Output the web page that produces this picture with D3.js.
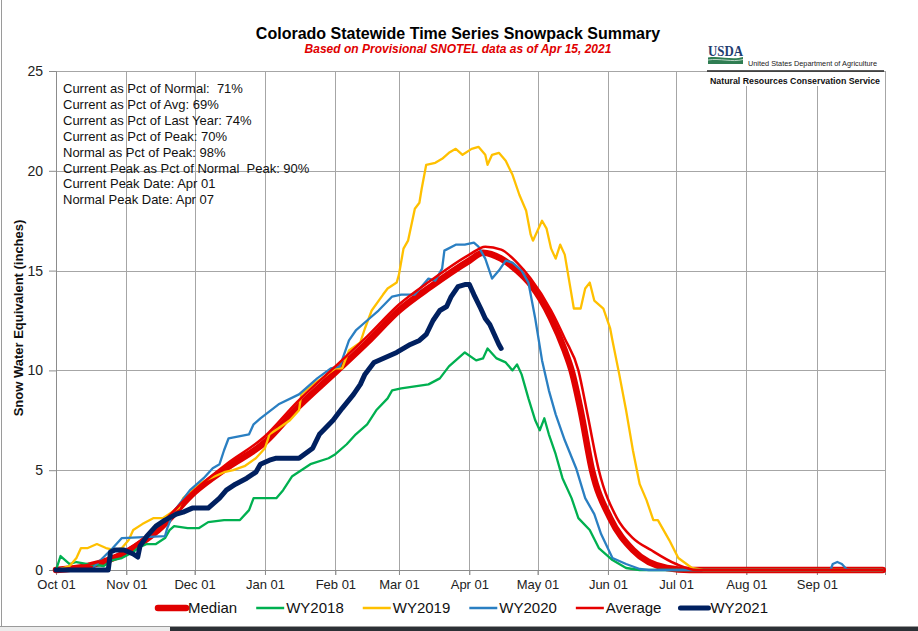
<!DOCTYPE html>
<html><head><meta charset="utf-8">
<script src="https://cdn.jsdelivr.net/npm/d3@7"></script>
<style>
html,body{margin:0;padding:0;background:#fff;}
svg{display:block;font-family:"Liberation Sans",Arial,sans-serif;}
</style></head><body>
<svg id="chart" width="918" height="631"></svg>
<script>
// ---------- DATA ----------
const monthTicks = ["10-01","11-01","12-01","01-01","02-01","03-01","04-01","05-01","06-01","07-01","08-01","09-01"];
const monthLabels = ["Oct 01","Nov 01","Dec 01","Jan 01","Feb 01","Mar 01","Apr 01","May 01","Jun 01","Jul 01","Aug 01","Sep 01"];
const yTicks = [0,5,10,15,20,25];

const median = [["10-01",0],["10-15",0.2],["11-01",0.9],["11-15",2.0],["12-01",3.9],["12-15",5.1],["01-01",6.4],["01-15",8.1],["02-01",9.9],["02-15",11.4],["03-01",13.0],["03-15",14.2],["04-01",15.5],["04-07",15.9],["04-15",15.6],["04-22",15.0],["04-28",14.3],["05-07",12.6],["05-13",11.0],["05-16",10.0],["05-20",8.0],["05-25",5.0],["06-02",2.6],["06-12",1.0],["06-27",0.1],["07-07",0],["09-30",0]];

const average = [["10-01",0],["10-15",0.25],["11-01",1.0],["11-15",2.2],["12-01",4.0],["12-15",5.3],["01-01",6.7],["01-15",8.4],["02-01",10.2],["02-15",11.7],["03-01",13.3],["03-15",14.5],["04-01",15.8],["04-08",16.2],["04-15",16.05],["04-22",15.4],["04-28",14.6],["05-07",13.0],["05-13",11.6],["05-19",10.0],["05-23",7.8],["05-28",5.0],["06-05",2.6],["06-12",1.6],["06-20",1.0],["07-01",0.3],["07-10",0],["09-30",0]];

const wy2018 = [["10-01",0],["10-03",0.7],["10-04",0.6],["10-07",0.3],["10-10",0.4],["10-15",0.3],["10-22",0.2],["10-26",0.5],["10-30",0.6],["11-04",0.9],["11-06",1.1],["11-10",1.3],["11-14",1.3],["11-18",1.6],["11-20",2.0],["11-22",2.2],["11-28",2.1],["12-03",2.1],["12-07",2.4],["12-14",2.5],["12-21",2.5],["12-25",3.0],["12-27",3.6],["01-06",3.6],["01-09",4.0],["01-13",4.7],["01-21",5.3],["01-29",5.6],["02-01",5.8],["02-06",6.3],["02-10",6.8],["02-15",7.3],["02-19",8.0],["02-24",8.6],["02-26",9.0],["03-02",9.1],["03-08",9.2],["03-14",9.3],["03-19",9.6],["03-23",10.2],["03-30",10.9],["04-04",10.5],["04-07",10.6],["04-09",11.1],["04-13",10.6],["04-17",10.4],["04-20",10.0],["04-22",10.3],["04-24",9.8],["04-27",8.6],["04-30",7.5],["05-02",7.0],["05-04",7.6],["05-06",6.8],["05-09",5.8],["05-12",4.6],["05-16",3.6],["05-19",2.6],["05-24",2.0],["05-28",1.1],["06-03",0.5],["06-09",0.1],["06-15",0],["09-30",0]];

const wy2019 = [["10-01",0],["10-07",0.2],["10-10",0.6],["10-12",1.1],["10-15",1.1],["10-19",1.3],["10-23",1.1],["10-27",1.0],["10-30",1.1],["11-02",1.5],["11-04",2.0],["11-08",2.3],["11-13",2.6],["11-17",2.6],["11-21",2.9],["11-24",3.1],["11-26",3.6],["11-30",4.0],["12-03",4.3],["12-06",4.5],["12-10",4.7],["12-14",4.9],["12-18",5.0],["12-23",5.2],["12-28",5.6],["01-01",6.1],["01-03",6.8],["01-07",7.1],["01-12",7.5],["01-16",8.0],["01-17",8.8],["01-22",9.3],["01-26",9.6],["02-01",10.1],["02-04",10.1],["02-07",11.0],["02-12",11.4],["02-14",12.1],["02-17",13.0],["02-22",13.8],["02-24",14.1],["02-28",14.4],["03-01",14.8],["03-03",16.1],["03-05",16.5],["03-08",18.1],["03-10",18.4],["03-11",19.1],["03-13",20.3],["03-17",20.4],["03-20",20.6],["03-23",20.9],["03-26",21.1],["03-29",20.8],["04-02",21.1],["04-05",21.2],["04-08",20.8],["04-09",20.3],["04-11",20.8],["04-14",20.9],["04-17",20.5],["04-20",19.8],["04-23",18.8],["04-26",18.0],["04-28",16.8],["04-29",16.5],["05-03",17.5],["05-05",17.1],["05-07",16.1],["05-09",15.6],["05-11",16.3],["05-13",15.8],["05-17",13.1],["05-20",13.1],["05-22",14.1],["05-24",14.4],["05-26",13.5],["05-28",13.3],["05-30",13.1],["06-02",12.1],["06-03",11.5],["06-06",9.8],["06-09",8.0],["06-12",6.0],["06-15",4.3],["06-18",3.5],["06-21",2.5],["06-23",2.5],["06-28",1.5],["07-02",0.6],["07-08",0.1],["07-13",0],["09-30",0]];

const wy2020 = [["10-01",0],["10-17",0],["10-18",0.2],["10-26",1.1],["10-30",1.6],["11-18",1.7],["11-19",2.1],["11-22",2.95],["11-29",4.0],["12-02",4.3],["12-05",4.6],["12-09",5.1],["12-12",5.3],["12-14",6.0],["12-16",6.6],["12-25",6.8],["12-27",7.3],["12-30",7.6],["01-07",8.3],["01-16",8.8],["01-24",9.6],["01-30",10.1],["02-03",10.2],["02-07",11.5],["02-10",12.0],["02-16",12.6],["02-20",13.0],["02-26",13.7],["03-02",13.8],["03-08",13.8],["03-14",14.6],["03-17",14.5],["03-20",15.1],["03-21",16.0],["03-26",16.3],["03-30",16.3],["04-03",16.4],["04-05",16.2],["04-08",15.6],["04-11",14.6],["04-14",15.0],["04-17",15.5],["04-20",15.4],["04-24",15.0],["04-27",14.4],["04-30",12.6],["05-03",10.5],["05-06",9.0],["05-09",7.8],["05-13",6.5],["05-18",5.1],["05-22",3.6],["05-26",2.8],["05-29",1.8],["06-03",0.6],["06-09",0.3],["06-15",0.05],["06-19",0],["09-07",0],["09-08",0.3],["09-10",0.4],["09-12",0.3],["09-14",0.05],["09-16",0],["09-30",0]];

const wy2021 = [["10-01",0],["10-24",0],["10-25",0.9],["10-27",1.0],["10-31",1.0],["11-04",0.8],["11-06",0.65],["11-07",1.2],["11-10",1.7],["11-14",2.2],["11-18",2.5],["11-23",2.8],["11-26",2.9],["11-30",3.1],["12-07",3.1],["12-09",3.3],["12-12",3.6],["12-15",4.0],["12-19",4.3],["12-24",4.6],["12-28",4.9],["12-30",5.3],["01-03",5.5],["01-06",5.6],["01-16",5.6],["01-22",6.1],["01-25",6.8],["01-31",7.5],["02-04",8.1],["02-09",8.8],["02-12",9.3],["02-14",9.8],["02-18",10.4],["02-22",10.6],["02-28",10.9],["03-06",11.3],["03-10",11.5],["03-13",11.8],["03-16",12.5],["03-19",13.0],["03-22",13.2],["03-24",13.7],["03-27",14.2],["03-30",14.3],["04-01",14.3],["04-03",13.8],["04-06",13.1],["04-08",12.6],["04-10",12.3],["04-12",11.8],["04-14",11.3],["04-15",11.1]];

const statsLines = ["Current as Pct of Normal:  71%","Current as Pct of Avg: 69%","Current as Pct of Last Year: 74%","Current as Pct of Peak: 70%","Normal as Pct of Peak: 98%","Current Peak as Pct of Normal  Peak: 90%","Current Peak Date: Apr 01","Normal Peak Date: Apr 07"];

const seriesNames = ["Median","WY2018","WY2019","WY2020","Average","WY2021"];
const seriesColors = ["#e00000","#00b050","#ffc000","#2a7fc2","#e60000","#002060"];
const seriesWidths = [6.5,2.3,2.3,2.3,2.5,5];
const seriesData = [median, wy2018, wy2019, wy2020, average, wy2021];

// ---------- CHART ----------
const svg = d3.select("#chart");
const plot = {left:56, right:885, top:71, bottom:570};
const parse = s => { const [m,d] = s.split("-").map(Number); return new Date(m >= 10 ? 2020 : 2021, m-1, d); };
const x = d3.scaleTime().domain([new Date(2020,9,1), new Date(2021,9,1)]).range([plot.left, plot.right]);
const y = d3.scaleLinear().domain([0,25]).range([plot.bottom, plot.top]);
const crisp = v => Math.round(v) + 0.5;

svg.append("rect").attr("width",918).attr("height",631).attr("fill","#fff");

// frame
svg.append("line").attr("x1",1.5).attr("x2",1.5).attr("y1",0).attr("y2",626).attr("stroke","#9a9a9a");
svg.append("line").attr("x1",0).attr("x2",918).attr("y1",626.5).attr("y2",626.5).attr("stroke","#9a9a9a");
svg.append("rect").attr("x",0).attr("y",627).attr("width",170).attr("height",4).attr("fill","#ececec");
svg.append("rect").attr("x",170).attr("y",627).attr("width",748).attr("height",4).attr("fill","#2c3035");

// grid
const grid = svg.append("g").attr("stroke","#a6a6a6").attr("stroke-width",1);
yTicks.forEach(t => grid.append("line").attr("x1",plot.left).attr("x2",plot.right+0.5).attr("y1",crisp(y(t))).attr("y2",crisp(y(t))));
monthTicks.slice(1).map(parse).concat([new Date(2021,9,1)]).forEach(d =>
  grid.append("line").attr("x1",crisp(x(d))).attr("x2",crisp(x(d))).attr("y1",plot.top).attr("y2",plot.bottom+5));

// axes
const xAxis = d3.axisBottom(x).tickValues(monthTicks.map(parse)).tickFormat((d,i)=>monthLabels[i]).tickSize(5).tickPadding(5);
const gx = svg.append("g").attr("transform",`translate(0,${crisp(y(0))-0.5})`).call(xAxis);
gx.select(".domain").attr("stroke","#8c8c8c");
gx.selectAll(".tick line").attr("stroke","#8c8c8c");
gx.selectAll("text").attr("font-size",13).attr("fill","#222").attr("font-family","Liberation Sans, Arial, sans-serif");

const yAxis = d3.axisLeft(y).tickValues(yTicks).tickSize(7).tickPadding(6);
const gy = svg.append("g").attr("transform",`translate(${crisp(plot.left)-0.5},0)`).call(yAxis);
gy.select(".domain").attr("stroke","#8c8c8c");
gy.selectAll(".tick line").attr("stroke","#8c8c8c");
gy.selectAll("text").attr("font-size",14).attr("fill","#222").attr("font-family","Liberation Sans, Arial, sans-serif");

svg.append("text").attr("transform","translate(23,318) rotate(-90)").attr("text-anchor","middle")
  .attr("font-size",13).attr("font-weight","bold").attr("fill","#111").text("Snow Water Equivalent  (inches)");

// series
seriesData.forEach((data,i) => {
  const smooth = (seriesNames[i]==="Median"||seriesNames[i]==="Average");
  const line = d3.line().x(d=>x(parse(d[0]))).y(d=>y(d[1])).curve(smooth ? d3.curveMonotoneX : d3.curveLinear);
  svg.append("path").datum(data).attr("d",line).attr("fill","none")
    .attr("stroke",seriesColors[i]).attr("stroke-width",seriesWidths[i])
    .attr("stroke-linejoin","round").attr("stroke-linecap","round");
});

// stats text
const st = svg.append("g").attr("font-size",13).attr("fill","#111");
statsLines.forEach((s,i) => st.append("text").attr("x",63).attr("y",93 + i*15.9).attr("xml:space","preserve").style("white-space","pre").text(s));

// titles
svg.append("text").attr("x",458).attr("y",39).attr("text-anchor","middle").attr("font-size",16).attr("font-weight","bold").attr("fill","#000")
  .text("Colorado Statewide Time Series Snowpack Summary");
svg.append("text").attr("x",458).attr("y",52.5).attr("text-anchor","middle").attr("font-size",12).attr("font-weight","bold").attr("font-style","italic").attr("fill","#e00000")
  .text("Based on Provisional SNOTEL data as of Apr 15, 2021");

// USDA / NRCS logo block
const logo = svg.append("g");
logo.append("rect").attr("x",707).attr("y",72).attr("width",177).attr("height",14).attr("fill","#fff");
logo.append("text").attr("x",708).attr("y",56).attr("font-size",14).attr("font-weight","bold").attr("fill","#1f3d70")
  .attr("textLength",35).attr("lengthAdjust","spacingAndGlyphs").attr("font-family","Liberation Serif, serif").text("USDA");
logo.append("path").attr("d","M708,57.5 C720,55.5 732,60.5 743,57 L743,64 L708,64 Z").attr("fill","#2f7d52");
logo.append("path").attr("d","M708,60 C720,58 732,62.5 743,59.5").attr("stroke","#d8eadf").attr("stroke-width",0.8).attr("fill","none");
logo.append("text").attr("x",748).attr("y",66).attr("font-size",7.3).attr("fill","#222")
  .attr("textLength",129).attr("lengthAdjust","spacingAndGlyphs").text("United States Department of Agriculture");
logo.append("line").attr("x1",707).attr("x2",884).attr("y1",71).attr("y2",71).attr("stroke","#222").attr("stroke-width",1.5);
logo.append("text").attr("x",710).attr("y",83.5).attr("font-size",8.8).attr("font-weight","bold").attr("fill","#111")
  .attr("textLength",170).attr("lengthAdjust","spacingAndGlyphs").text("Natural Resources Conservation Service");
logo.append("line").attr("x1",crisp(plot.right)).attr("x2",crisp(plot.right)).attr("y1",71).attr("y2",87).attr("stroke","#a6a6a6");

// legend
const lg = svg.append("g").attr("font-size",15).attr("fill","#111");
let cx = 158;
const items = [];
seriesNames.forEach((n,i) => {
  const g = lg.append("g").attr("transform",`translate(${cx},0)`);
  g.append("line").attr("x1",0).attr("x2",28).attr("y1",608).attr("y2",608).attr("stroke",seriesColors[i])
    .attr("stroke-width",Math.max(seriesWidths[i],2.5)).attr("stroke-linecap",seriesWidths[i]>3?"round":"butt");
  const t = g.append("text").attr("x",30).attr("y",613).text(n);
  cx += 30 + t.node().getComputedTextLength() + 19;
});
</script>
</body></html>
